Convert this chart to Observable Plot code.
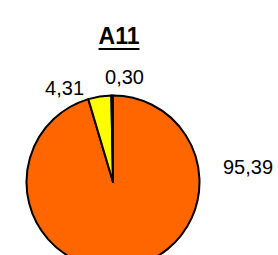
<!DOCTYPE html>
<html>
<head>
<meta charset="utf-8">
<script src="https://cdn.jsdelivr.net/npm/d3@7"></script>
<script src="https://cdn.jsdelivr.net/npm/@observablehq/plot@0.6"></script>
<style>
  html, body { margin: 0; padding: 0; background: #fff; }
  #wrap { width: 278px; height: 255px; overflow: hidden; font-family: "Liberation Sans", Arial, sans-serif; }
  #title { margin: 24px 0 0 0; height: 24px; line-height: 24px; width: 278px; padding-right: 40px; box-sizing: border-box;
    text-align: center; font-weight: bold; font-size: 23px; text-decoration: underline; text-decoration-thickness: 2px; text-underline-offset: 4px; color: #000; }
  svg { display: block; }
</style>
</head>
<body>
<div id="wrap">
  <div id="title">A11</div>
  <div id="chart"></div>
</div>
<script>
const categories = ["Serie 1", "Serie 2", "Serie 3"];
const values = [95.39, 4.31, 0.30];
const valueLabels = ["95,39", "4,31", "0,30"];
const sliceColors = ["#ff6600", "#ffff00", "#ffffff"];
// label anchor positions in pie-radius units (pie is unit circle at origin)
const labelX = [1.555, -0.566, 0.127];
const labelY = [0.173, 1.087, 1.217];

const data = categories.map((c, i) => ({category: c, value: values[i], label: valueLabels[i], color: sliceColors[i], lx: labelX[i], ly: labelY[i]}));

const pieMark = (index, scales, channels, dimensions, context) => {
  const x = scales.x, y = scales.y;
  const cx = x(0), cy = y(0);
  const r = x(1) - x(0);
  const arcs = d3.pie().sort(null).value(d => d.value)(data);
  const arc = d3.arc().innerRadius(0).outerRadius(r);
  const g = d3.create("svg:g").attr("transform", `translate(${cx},${cy})`);
  g.selectAll("path").data(arcs).join("path")
    .attr("d", arc)
    .attr("fill", d => d.data.color)
    .attr("stroke", "#000")
    .attr("stroke-width", 2)
    .attr("stroke-linejoin", "round");
  return g.node();
};

const chart = Plot.plot({
  width: 278,
  height: 207,
  margin: 0,
  x: {domain: [-1.3064, 1.9075], axis: null},
  y: {domain: [-0.8439, 1.5491], axis: null},
  marks: [
    pieMark,
    Plot.text(data, {x: "lx", y: "ly", text: "label", fontSize: 20, fontFamily: "Liberation Sans, Arial, sans-serif", fill: "#000", textAnchor: "middle", lineAnchor: "middle"})
  ]
});
document.getElementById("chart").appendChild(chart);
</script>
</body>
</html>
